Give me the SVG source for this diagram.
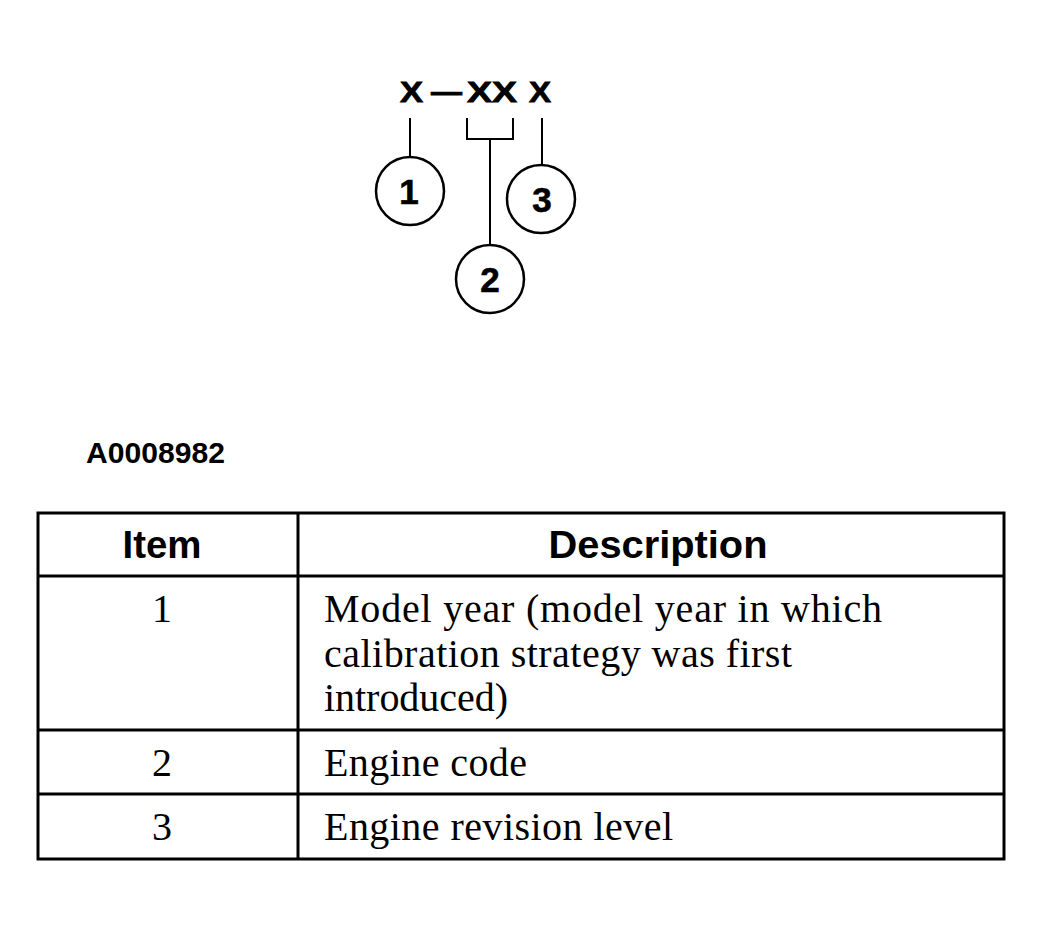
<svg xmlns="http://www.w3.org/2000/svg" width="1044" height="936" viewBox="0 0 1044 936">
<style>
.code{font-family:"Liberation Sans",Arial,sans-serif;font-weight:bold;font-size:30px;fill:#000;stroke:#000;stroke-width:0.8}
.fid{font-family:"Liberation Sans",Arial,sans-serif;font-weight:bold;font-size:29px;fill:#000}
.num{font-family:"Liberation Sans",Arial,sans-serif;font-weight:bold;font-size:35px;fill:#000;stroke:#000;stroke-width:0.6;text-anchor:middle}
.hdr{font-family:"Liberation Sans",Arial,sans-serif;font-weight:bold;font-size:38px;fill:#000;text-anchor:middle}
.body{font-family:"Liberation Serif","Times New Roman",serif;font-size:40px;fill:#000}
.ctr{text-anchor:middle}
.circ{fill:#fff;stroke:#000;stroke-width:2.5}
.ln{fill:none;stroke:#000;stroke-width:2}
.tb{fill:none;stroke:#000;stroke-width:3}
</style>
<rect width="1044" height="936" fill="#fff"/>
<g id="code">
<text class="code" x="400" y="102" textLength="23" lengthAdjust="spacingAndGlyphs">X</text>
<text class="code" x="431" y="102" textLength="31" lengthAdjust="spacingAndGlyphs">—</text>
<text class="code" x="467" y="102" textLength="50" lengthAdjust="spacingAndGlyphs">XX</text>
<text class="code" x="529" y="102" textLength="22" lengthAdjust="spacingAndGlyphs">X</text>
</g>
<g id="connectors">
<line class="ln" x1="410" y1="118" x2="410" y2="157"/>
<polyline class="ln" points="467,118 467,139 513,139 513,118"/>
<line class="ln" x1="490" y1="139" x2="490" y2="245"/>
<line class="ln" x1="542" y1="118" x2="542" y2="164"/>
</g>
<g id="callout1">
<circle class="circ" cx="410" cy="191" r="34"/>
<text class="num" x="409" y="204">1</text>
</g>
<g id="callout2">
<circle class="circ" cx="490" cy="279" r="34"/>
<text class="num" x="490" y="292">2</text>
</g>
<g id="callout3">
<circle class="circ" cx="541" cy="199" r="34"/>
<text class="num" x="542" y="212">3</text>
</g>
<g id="figure-id">
<text class="fid" x="86" y="463" textLength="139" lengthAdjust="spacingAndGlyphs">A0008982</text>
</g>
<g id="table">
<rect class="tb" x="38" y="513" width="966" height="346"/>
<line class="tb" x1="38" y1="576" x2="1004" y2="576"/>
<line class="tb" x1="38" y1="730" x2="1004" y2="730"/>
<line class="tb" x1="38" y1="794" x2="1004" y2="794"/>
<line class="tb" x1="298" y1="513" x2="298" y2="859"/>
<text class="hdr" x="162" y="558" textLength="79" lengthAdjust="spacingAndGlyphs">Item</text>
<text class="hdr" x="658" y="558" textLength="219" lengthAdjust="spacingAndGlyphs">Description</text>
<text class="body ctr" x="162" y="622">1</text>
<text class="body" x="324" y="622" textLength="558">Model year (model year in which</text>
<text class="body" x="324" y="667" textLength="468">calibration strategy was first</text>
<text class="body" x="324" y="711" textLength="184">introduced)</text>
<text class="body ctr" x="162" y="776">2</text>
<text class="body" x="324" y="776" textLength="203">Engine code</text>
<text class="body ctr" x="162" y="840">3</text>
<text class="body" x="324" y="840" textLength="349">Engine revision level</text>
</g>
</svg>
